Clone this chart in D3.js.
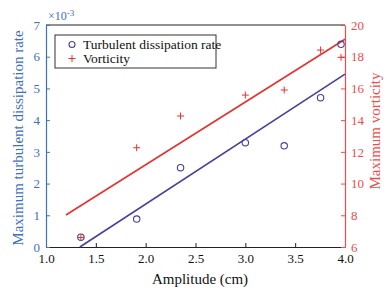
<!DOCTYPE html>
<html><head><meta charset="utf-8">
<script src="https://cdn.jsdelivr.net/npm/d3@7"></script>
<style>body{margin:0;background:#fff}svg{display:block;font-family:"Liberation Serif","Times New Roman",serif}</style>
</head><body><svg id="c" width="387" height="297"></svg>
<script>
const amplitude = [1.35, 1.91, 2.35, 3.0, 3.39, 3.755, 3.96];
const dissipation = [0.31, 0.88, 2.50, 3.29, 3.19, 4.71, 6.39];
const vorticity = [6.6, 12.26, 14.26, 15.58, 15.9, 18.42, 17.96];
const dissFitX = [1.34, 4.0];
const dissFitY = [0.0, 5.45];
const vortFitX = [1.2, 4.0];
const vortFitY = [8.02, 19.1];
const xTicks = [1.0, 1.5, 2.0, 2.5, 3.0, 3.5, 4.0];
const leftTicks = [0, 1, 2, 3, 4, 5, 6, 7];
const rightTicks = [6, 8, 10, 12, 14, 16, 18, 20];

const L = 46, R = 345, T = 25, B = 247;
const blue = "#3f6fbf", red = "#ee4c4c", dark = "#4a3f9c", lred = "#e8302c";
const svg = d3.select("#c");
const x = d3.scaleLinear().domain([1, 4]).range([L, R]);
const yl = d3.scaleLinear().domain([0, 7]).range([B, T]);
const yr = d3.scaleLinear().domain([6, 20]).range([B, T]);

// top border
svg.append("line").attr("x1", L).attr("x2", R).attr("y1", T).attr("y2", T).attr("stroke", "#222").attr("stroke-width", 1.2);

// x axis
const gx = svg.append("g").attr("transform", `translate(0,${B})`)
  .call(d3.axisBottom(x).tickValues(xTicks).tickFormat(d3.format(".1f")).tickSizeInner(-4).tickSizeOuter(0).tickPadding(7));
gx.select(".domain").attr("stroke", "#222").attr("stroke-width", 1.2);
gx.selectAll(".tick line").attr("stroke", "#222");
gx.selectAll("text").attr("font-size", 13).attr("fill", "#111").attr("font-family", "Liberation Serif");

// left axis
const gl = svg.append("g").attr("transform", `translate(${L},0)`)
  .call(d3.axisLeft(yl).tickValues(leftTicks).tickFormat(d3.format("d")).tickSizeInner(-4).tickSizeOuter(0).tickPadding(6));
gl.select(".domain").attr("stroke", blue).attr("stroke-width", 1.2);
gl.selectAll(".tick line").attr("stroke", blue);
gl.selectAll("text").attr("font-size", 13).attr("fill", blue).attr("font-family", "Liberation Serif");

// right axis
const gr = svg.append("g").attr("transform", `translate(${R},0)`)
  .call(d3.axisRight(yr).tickValues(rightTicks).tickFormat(d3.format("d")).tickSizeInner(-4).tickSizeOuter(0).tickPadding(6));
gr.select(".domain").attr("stroke", red).attr("stroke-width", 1.2);
gr.selectAll(".tick line").attr("stroke", red);
gr.selectAll("text").attr("font-size", 13).attr("fill", red).attr("font-family", "Liberation Serif");

// exponent label
const ex = svg.append("text").attr("x", L + 2).attr("y", T - 5).attr("font-size", 12).attr("fill", blue);
ex.append("tspan").text("×10");
ex.append("tspan").attr("dy", -4).attr("font-size", 9).text("-3");

// fit lines
const line = (xs, ys, sy) => d3.line()(xs.map((v, i) => [x(v), sy(ys[i])]));
svg.append("path").attr("d", line(vortFitX, vortFitY, yr)).attr("stroke", lred).attr("stroke-width", 1.6).attr("fill", "none");
svg.append("path").attr("d", line(dissFitX, dissFitY, yl)).attr("stroke", dark).attr("stroke-width", 1.6).attr("fill", "none");

// circles
svg.append("g").selectAll("circle").data(amplitude).join("circle")
  .attr("cx", d => x(d)).attr("cy", (d, i) => yl(dissipation[i])).attr("r", 3.2)
  .attr("fill", "none").attr("stroke", dark).attr("stroke-width", 1.1);

// plus markers
const plus = (g, cx, cy, s) => g.append("path").attr("d", `M${cx - s},${cy}H${cx + s}M${cx},${cy - s}V${cy + s}`)
  .attr("stroke", lred).attr("stroke-width", 1).attr("fill", "none");
const gp = svg.append("g");
amplitude.forEach((a, i) => plus(gp, x(a), yr(vorticity[i]), 3.5));

// legend
svg.append("rect").attr("x", 55).attr("y", 35).attr("width", 161).attr("height", 33)
  .attr("fill", "#fff").attr("stroke", "#333").attr("stroke-width", 1);
svg.append("circle").attr("cx", 72).attr("cy", 44.5).attr("r", 3).attr("fill", "none").attr("stroke", dark).attr("stroke-width", 1.1);
plus(svg, 72, 58.5, 3.5);
svg.append("text").attr("x", 83).attr("y", 49).attr("font-size", 13.5).attr("fill", "#111").text("Turbulent dissipation rate");
svg.append("text").attr("x", 83).attr("y", 63).attr("font-size", 13.5).attr("fill", "#111").text("Vorticity");

// titles
svg.append("text").attr("x", 200).attr("y", 284).attr("text-anchor", "middle").attr("font-size", 15).attr("fill", "#111").text("Amplitude (cm)");
svg.append("text").attr("transform", "translate(23,138) rotate(-90)").attr("text-anchor", "middle").attr("font-size", 15).attr("fill", blue).text("Maximum turbulent dissipation rate");
svg.append("text").attr("transform", "translate(380,131) rotate(-90)").attr("text-anchor", "middle").attr("font-size", 15).attr("fill", red).text("Maximum vorticity");
</script></body></html>
